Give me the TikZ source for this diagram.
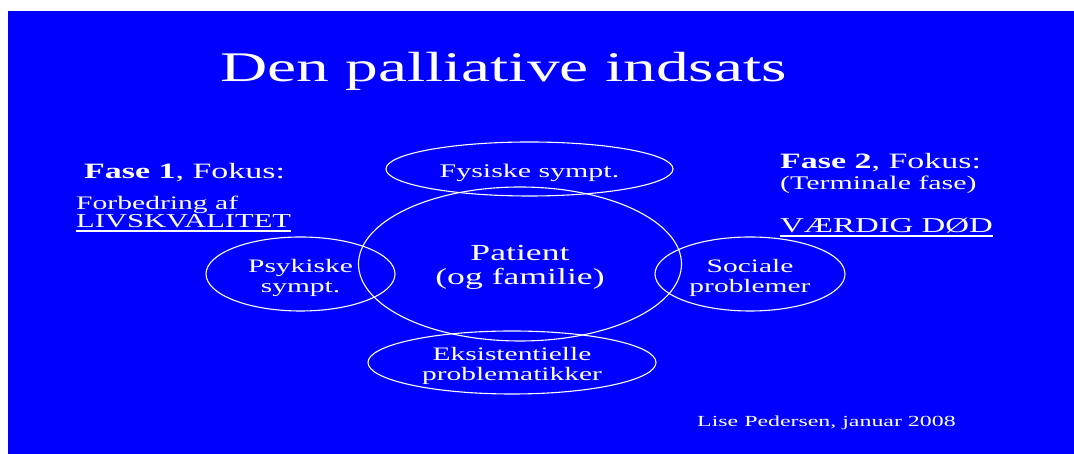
\documentclass[tikz,border=0pt]{standalone}
\usepackage{fontspec}
\setmainfont{Liberation Serif}[FakeStretch=1.55]
\usetikzlibrary{shapes.geometric}
\newcommand{\fs}[2]{\fontsize{#1}{#2}\selectfont}
\tikzset{
  txt/.style={text=white, inner sep=0pt},
  ctxt/.style={text=white, inner sep=0pt, align=center},
  bubble/.style={ellipse, draw=white, line width=1.1pt, inner sep=0pt},
  uline/.style={draw=white, line width=1.1pt},
}
\begin{document}
\begin{tikzpicture}[x=1pt,y=1pt]
\useasboundingbox (0,0) rectangle (1074,454);
\fill[white] (0,0) rectangle (1074,454);
\fill[blue] (8,0) rectangle (1074,443);
% title
\node[txt, anchor=base, font=\fs{42.2}{44}] (title) at (503.5,372) {Den palliative indsats};
% left phase
\node[txt, anchor=base west, font=\fs{21.9}{24}] (f1) at (84,275) {\textbf{Fase 1}, Fokus:};
\node[txt, anchor=base west, font=\fs{19.1}{21}] (f1a) at (76,244) {Forbedring af};
\node[txt, anchor=base west, font=\fs{19.7}{21}] (f1b) at (76,226) {LIVSKVALITET};
\draw[uline] ([yshift=-3]f1b.base west) -- ([yshift=-3]f1b.base east);
% right phase
\node[txt, anchor=base west, font=\fs{21.9}{24}] (f2) at (780,285) {\textbf{Fase 2}, Fokus:};
\node[txt, anchor=base west, font=\fs{19.3}{21}] (f2a) at (780,264) {(Terminale fase)};
\node[txt, anchor=base west, font=\fs{21.2}{23}] (f2b) at (780,221) {VÆRDIG DØD};
\draw[uline] ([yshift=-3]f2b.base west) -- ([yshift=-3]f2b.base east);
% bubbles
\node[bubble, minimum width=323, minimum height=154] (patient) at (520,190) {};
\node[bubble, minimum width=287, minimum height=54] (fys) at (529.5,285) {};
\node[bubble, minimum width=288, minimum height=63] (eks) at (512,91.5) {};
\node[bubble, minimum width=189, minimum height=74] (psy) at (300.5,180) {};
\node[bubble, minimum width=190, minimum height=74] (soc) at (750,180) {};
\node[ctxt, font=\fs{23}{24}] (patientT) at ([yshift=-3.5]patient.center) {Patient\\(og familie)};
\node[ctxt, font=\fs{19.3}{20}] (fysT) at ([yshift=-3.5]fys.center) {Fysiske sympt.};
\node[ctxt, font=\fs{19}{20}] (eksT) at ([yshift=-3.5]eks.center) {Eksistentielle\\problematikker};
\node[ctxt, font=\fs{19}{20}] (psyT) at ([yshift=-3.5]psy.center) {Psykiske\\sympt.};
\node[ctxt, font=\fs{19}{20}] (socT) at ([yshift=-3.5]soc.center) {Sociale\\problemer};
% footer
\node[txt, anchor=base west, font=\fs{15.4}{17}] (lise) at (697,27) {Lise Pedersen, januar 2008};
\end{tikzpicture}
\end{document}
